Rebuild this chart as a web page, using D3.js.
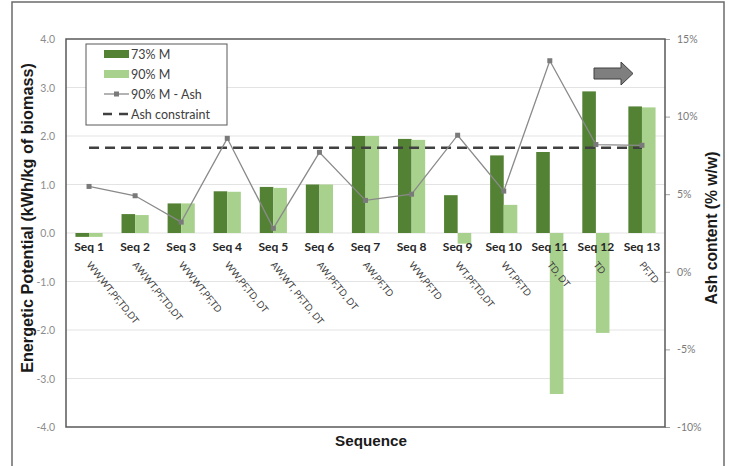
<!DOCTYPE html>
<html>
<head>
<meta charset="utf-8">
<script src="https://cdnjs.cloudflare.com/ajax/libs/d3/7.8.5/d3.min.js"></script>
<style>
body { margin: 0; background: #fff; }
svg { display: block; }
</style>
</head>
<body>
<script>
var sequences = ['Seq 1', 'Seq 2', 'Seq 3', 'Seq 4', 'Seq 5', 'Seq 6', 'Seq 7', 'Seq 8', 'Seq 9', 'Seq 10', 'Seq 11', 'Seq 12', 'Seq 13'];
var steps = ['WW,WT,PF,TD,DT', 'AW,WT,PF,TD,DT', 'WW,WT,PF,TD', 'WW,PF,TD, DT', 'AW,WT, PF,TD, DT', 'AW,PF,TD, DT', 'AW,PF,TD', 'WW,PF,TD', 'WT,PF,TD,DT', 'WT,PF,TD', 'TD, DT', 'TD', 'PF,TD'];
var m73 = [-0.08, 0.39, 0.61, 0.86, 0.95, 1.0, 2.0, 1.94, 0.78, 1.6, 1.67, 2.92, 2.61];
var m90 = [-0.08, 0.37, 0.61, 0.85, 0.93, 1.0, 2.0, 1.92, -0.22, 0.58, -3.32, -2.06, 2.59];
var ash90 = [5.5, 4.9, 3.2, 8.6, 2.8, 7.7, 4.6, 5.0, 8.8, 5.2, 13.6, 8.2, 8.15];
var ashLimit = 8.0;
var leftTicks = [4, 3, 2, 1, 0, -1, -2, -3, -4];
var rightTicks = [15, 10, 5, 0, -5, -10];

var W = 729, H = 466;
var svg = d3.select('body').append('svg').attr('width', W).attr('height', H);

var pL = 66, pR = 665, pT = 39, pB = 427;

// shrink or grow a text so it spans a given length
function fitText(t, target) {
    var size = parseFloat(t.style('font-size'));
    var len = t.node().getComputedTextLength();
    if (len > 0) t.style('font-size', (size * target / len) + 'px');
}

// outer frame
svg.append('rect').attr('x', 12).attr('y', 2).attr('width', 712).attr('height', 480)
    .attr('fill', 'none').attr('stroke', '#6b6b6b').attr('stroke-width', 1.5);

var x = d3.scaleBand().domain(sequences).range([pL, pR]).paddingInner(0.41).paddingOuter(0.205);
var y = d3.scaleLinear().domain([-4, 4]).range([pB, pT]);
var y2 = d3.scaleLinear().domain([-10, 15]).range([pB, pT]);
var bw = x.bandwidth() / 2;

// gridlines
svg.append('g').selectAll('line').data(leftTicks.filter(function(d) { return d > -4 && d < 4; }))
    .enter().append('line')
    .attr('x1', pL).attr('x2', pR)
    .attr('y1', function(d) { return y(d); }).attr('y2', function(d) { return y(d); })
    .attr('stroke', '#e3e3e3').attr('stroke-width', 1.2);

// left tick labels
svg.append('g').selectAll('text').data(leftTicks).enter().append('text')
    .attr('x', 55).attr('y', function(d) { return y(d) + 4; })
    .attr('text-anchor', 'end')
    .style('font-family', 'Lato, sans-serif').style('font-size', '10.5px').attr('fill', '#8c8c8c')
    .text(function(d) { return d.toFixed(1); });

// right axis
var rAxis = d3.axisRight(y2).tickValues(rightTicks).tickSize(5).tickFormat(function(d) { return d + '%'; });
var ra = svg.append('g').attr('transform', 'translate(' + pR + ',0)').call(rAxis);
ra.select('.domain').remove();
ra.selectAll('.tick line').attr('stroke', '#a0a0a0');
ra.selectAll('.tick text').attr('x', 12).attr('fill', '#7a7a7a')
    .style('font-family', 'Lato, sans-serif').style('font-size', '10.5px');

// bars
svg.append('g').selectAll('rect').data(m73).enter().append('rect')
    .attr('x', function(d, i) { return x(sequences[i]); })
    .attr('y', function(d) { return y(Math.max(0, d)); })
    .attr('width', bw)
    .attr('height', function(d) { return Math.abs(y(d) - y(0)); })
    .attr('fill', '#548235');
svg.append('g').selectAll('rect').data(m90).enter().append('rect')
    .attr('x', function(d, i) { return x(sequences[i]) + bw; })
    .attr('y', function(d) { return y(Math.max(0, d)); })
    .attr('width', bw)
    .attr('height', function(d) { return Math.abs(y(d) - y(0)); })
    .attr('fill', '#a9d18e');

// ash constraint line
svg.append('line')
    .attr('x1', x(sequences[0]) + bw).attr('x2', x(sequences[12]) + bw)
    .attr('y1', y2(ashLimit)).attr('y2', y2(ashLimit))
    .attr('stroke', '#404040').attr('stroke-width', 2.5).attr('stroke-dasharray', '10,6');

// ash line
var line = d3.line()
    .x(function(d, i) { return x(sequences[i]) + bw; })
    .y(function(d) { return y2(d); });
svg.append('path').datum(ash90).attr('d', line)
    .attr('fill', 'none').attr('stroke', '#8a8a8a').attr('stroke-width', 1.3);
svg.append('g').selectAll('rect').data(ash90).enter().append('rect')
    .attr('x', function(d, i) { return x(sequences[i]) + bw - 2.5; })
    .attr('y', function(d) { return y2(d) - 2.5; })
    .attr('width', 5).attr('height', 5)
    .attr('fill', '#7a7a7a');

// plot frame
svg.append('rect').attr('x', pL).attr('y', pT).attr('width', pR - pL).attr('height', pB - pT)
    .attr('fill', 'none').attr('stroke', '#595959').attr('stroke-width', 1.5);

// category labels
svg.append('g').selectAll('text').data(sequences).enter().append('text')
    .attr('x', function(d) { return x(d) + bw; })
    .attr('y', 251)
    .attr('text-anchor', 'middle')
    .style('font-family', 'Lato, sans-serif').style('font-size', '12px').style('font-weight', 'bold')
    .attr('fill', '#262626')
    .text(function(d) { return d; });

svg.append('g').selectAll('text').data(steps).enter().append('text')
    .attr('transform', function(d, i) {
        return 'translate(' + (x(sequences[i]) + bw - 3) + ',265) rotate(51)';
    })
    .style('font-family', 'Lato, sans-serif').style('font-size', '9.5px')
    .attr('fill', '#404040')
    .text(function(d) { return d; });

// axis titles
var t1 = svg.append('text')
    .attr('transform', 'translate(33,218) rotate(-90)')
    .attr('text-anchor', 'middle')
    .style('font-family', 'Liberation Sans, Arial, sans-serif').style('font-size', '14px').style('font-weight', 'bold')
    .attr('fill', '#1a1a1a')
    .text('Energetic Potential (kWh/kg of biomass)');
fitText(t1, 310);
var t2 = svg.append('text')
    .attr('transform', 'translate(717,228) rotate(-90)')
    .attr('text-anchor', 'middle')
    .style('font-family', 'Liberation Sans, Arial, sans-serif').style('font-size', '15px').style('font-weight', 'bold')
    .attr('fill', '#1a1a1a')
    .text('Ash content (% w/w)');
fitText(t2, 153);
var t3 = svg.append('text')
    .attr('x', 371).attr('y', 446)
    .attr('text-anchor', 'middle')
    .style('font-family', 'Liberation Sans, Arial, sans-serif').style('font-size', '15.5px').style('font-weight', 'bold')
    .attr('fill', '#1a1a1a')
    .text('Sequence');
fitText(t3, 72);

// legend
var lg = svg.append('g');
lg.append('rect').attr('x', 86).attr('y', 44).attr('width', 141).attr('height', 81)
    .attr('fill', '#fff').attr('stroke', '#595959').attr('stroke-width', 1);
var legendItems = ['73% M', '90% M', '90% M - Ash', 'Ash constraint'];
legendItems.forEach(function(name, i) {
    var ly = 54 + i * 20;
    if (i === 0 || i === 1) {
        lg.append('rect').attr('x', 104).attr('y', ly - 4).attr('width', 25).attr('height', 8)
            .attr('fill', i === 0 ? '#548235' : '#a9d18e');
    } else if (i === 2) {
        lg.append('line').attr('x1', 104).attr('x2', 129).attr('y1', ly).attr('y2', ly)
            .attr('stroke', '#8a8a8a').attr('stroke-width', 1.3);
        lg.append('rect').attr('x', 114).attr('y', ly - 2.5).attr('width', 5).attr('height', 5).attr('fill', '#7a7a7a');
    } else {
        lg.append('line').attr('x1', 103).attr('x2', 130).attr('y1', ly).attr('y2', ly)
            .attr('stroke', '#404040').attr('stroke-width', 2.5).attr('stroke-dasharray', '9,7');
    }
    lg.append('text').attr('x', 131).attr('y', ly + 4.5)
        .style('font-family', 'Lato, sans-serif').style('font-size', '12.5px')
        .attr('fill', '#404040')
        .text(name);
});

// block arrow
svg.append('path')
    .attr('d', 'M594,68 L621,68 L621,62 L633,73.5 L621,85 L621,79 L594,79 Z')
    .attr('fill', '#7f7f7f').attr('stroke', '#404040').attr('stroke-width', 1);
</script>
</body>
</html>
